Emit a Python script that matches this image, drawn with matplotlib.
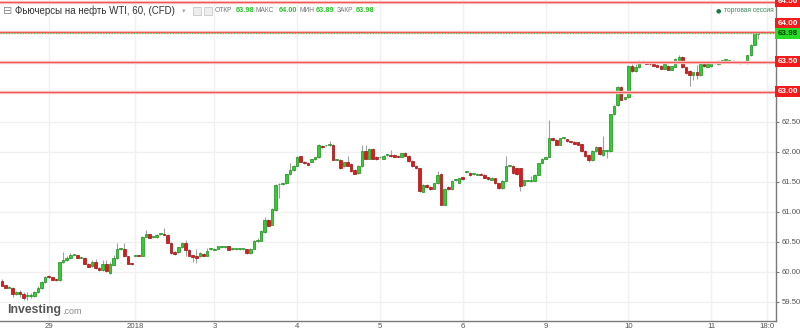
import numpy as np
import matplotlib
matplotlib.use('Agg')
import matplotlib.pyplot as plt
from matplotlib.patches import Rectangle

plt.rcParams['font.family'] = ['Liberation Sans', 'DejaVu Sans']

### Hourly candles (WTI futures CFD, 60 min)
opens = [59.85, 59.78, 59.74, 59.74, 59.63, 59.66, 59.64, 59.60, 59.60, 59.60,
         59.66, 59.74, 59.83, 59.93, 59.91, 59.88, 59.86, 60.16, 60.20, 60.24,
         60.29, 60.28, 60.24, 60.24, 60.14, 60.10, 60.17, 60.06, 60.03, 60.14,
         59.98, 60.12, 60.23, 60.38, 60.39, 60.26, 60.14, 60.27, 60.28, 60.27,
         60.59, 60.63, 60.58, 60.58, 60.63, 60.63, 60.62, 60.49, 60.34, 60.33,
         60.41, 60.48, 60.37, 60.28, 60.27, 60.26, 60.30, 60.27, 60.38, 60.37,
         60.39, 60.42, 60.41, 60.43, 60.38, 60.38, 60.38, 60.38, 60.38, 60.31,
         60.39, 60.51, 60.52, 60.66, 60.86, 60.79, 61.03, 61.46, 61.47, 61.48,
         61.63, 61.70, 61.77, 61.93, 61.84, 61.82, 61.84, 61.88, 61.91, 62.10,
         62.11, 62.11, 62.12, 61.87, 61.87, 61.76, 61.83, 61.80, 61.70, 61.65,
         61.76, 62.02, 61.89, 62.05, 61.92, 61.91, 61.89, 61.95, 61.95, 61.95,
         61.94, 61.92, 61.99, 61.94, 61.85, 61.77, 61.73, 61.34, 61.45, 61.42,
         61.39, 61.48, 61.64, 61.12, 61.42, 61.38, 61.53, 61.49, 61.58, 61.67,
         61.65, 61.63, 61.62, 61.64, 61.62, 61.58, 61.54, 61.56, 61.48, 61.40,
         61.52, 61.77, 61.77, 61.73, 61.73, 61.45, 61.52, 61.52, 61.52, 61.62,
         61.82, 61.89, 61.92, 62.23, 62.20, 62.12, 62.23, 62.21, 62.18, 62.17,
         62.16, 62.13, 62.02, 61.95, 61.86, 62.01, 62.08, 61.95, 62.02, 62.01,
         62.63, 62.78, 63.09, 62.88, 62.91, 63.44, 63.35, 63.41, 63.51, 63.51,
         63.47, 63.46, 63.45, 63.44, 63.39, 63.44, 63.37, 63.42, 63.54, 63.59,
         63.41, 63.35, 63.28, 63.33, 63.28, 63.46, 63.42, 63.43, 63.48, 63.46,
         63.52, 63.53, 63.52, 63.52, 63.49, 63.48, 63.49, 63.48, 63.61, 63.79,
         63.97]
closes = [59.77, 59.74, 59.75, 59.63, 59.67, 59.63, 59.56, 59.60, 59.62, 59.66,
          59.74, 59.84, 59.92, 59.91, 59.87, 59.86, 60.16, 60.20, 60.24, 60.29,
          60.29, 60.24, 60.24, 60.14, 60.09, 60.16, 60.06, 60.04, 60.14, 60.02,
          60.14, 60.23, 60.38, 60.38, 60.26, 60.14, 60.13, 60.27, 60.27, 60.59,
          60.63, 60.57, 60.58, 60.62, 60.63, 60.62, 60.49, 60.31, 60.30, 60.41,
          60.48, 60.37, 60.27, 60.25, 60.23, 60.31, 60.27, 60.35, 60.38, 60.39,
          60.43, 60.42, 60.43, 60.37, 60.38, 60.38, 60.38, 60.38, 60.31, 60.39,
          60.52, 60.53, 60.68, 60.87, 60.77, 61.05, 61.45, 61.47, 61.48, 61.63,
          61.70, 61.77, 61.91, 61.84, 61.81, 61.79, 61.88, 61.91, 62.12, 62.08,
          62.11, 62.13, 61.87, 61.87, 61.73, 61.83, 61.77, 61.68, 61.64, 61.77,
          62.02, 61.89, 62.05, 61.89, 61.88, 61.91, 61.94, 61.95, 61.93, 61.92,
          61.92, 61.98, 61.94, 61.85, 61.76, 61.73, 61.35, 61.45, 61.41, 61.38,
          61.48, 61.62, 61.12, 61.39, 61.38, 61.52, 61.53, 61.56, 61.55, 61.67,
          61.61, 61.63, 61.64, 61.62, 61.57, 61.55, 61.57, 61.48, 61.40, 61.52,
          61.77, 61.77, 61.65, 61.63, 61.44, 61.53, 61.52, 61.52, 61.62, 61.81,
          61.89, 61.91, 62.23, 62.20, 62.12, 62.23, 62.23, 62.18, 62.16, 62.14,
          62.12, 62.01, 61.93, 61.86, 62.02, 62.09, 61.96, 62.03, 62.02, 62.63,
          62.77, 63.08, 62.87, 62.91, 63.44, 63.35, 63.41, 63.49, 63.51, 63.47,
          63.46, 63.44, 63.42, 63.39, 63.46, 63.37, 63.43, 63.55, 63.59, 63.41,
          63.31, 63.28, 63.33, 63.28, 63.46, 63.43, 63.46, 63.48, 63.48, 63.52,
          63.52, 63.53, 63.52, 63.49, 63.49, 63.51, 63.49, 63.61, 63.79, 63.98,
          63.98]
highs = [59.89, 59.79, 59.76, 59.75, 59.69, 59.70, 59.66, 59.67, 59.65, 59.68,
         59.76, 59.85, 59.94, 59.95, 59.92, 59.89, 60.17, 60.34, 60.26, 60.31,
         60.30, 60.29, 60.25, 60.25, 60.15, 60.20, 60.22, 60.08, 60.20, 60.20,
         60.16, 60.28, 60.48, 60.40, 60.48, 60.27, 60.15, 60.28, 60.29, 60.60,
         60.70, 60.64, 60.59, 60.63, 60.64, 60.73, 60.63, 60.50, 60.35, 60.42,
         60.50, 60.53, 60.38, 60.29, 60.39, 60.33, 60.31, 60.40, 60.39, 60.40,
         60.44, 60.43, 60.44, 60.44, 60.39, 60.39, 60.39, 60.39, 60.39, 60.40,
         60.53, 60.56, 60.70, 60.91, 60.88, 61.07, 61.47, 61.48, 61.49, 61.64,
         61.81, 61.78, 61.93, 61.94, 61.85, 61.83, 61.89, 61.92, 62.13, 62.11,
         62.12, 62.18, 62.13, 61.88, 61.88, 61.84, 61.94, 61.81, 61.71, 61.78,
         62.12, 62.12, 62.06, 62.06, 61.93, 61.92, 61.95, 61.96, 62.03, 61.96,
         61.95, 61.99, 62.00, 61.95, 61.86, 61.78, 61.74, 61.46, 61.46, 61.43,
         61.49, 61.68, 61.65, 61.40, 61.43, 61.53, 61.54, 61.57, 61.59, 61.68,
         61.66, 61.64, 61.65, 61.65, 61.63, 61.59, 61.58, 61.57, 61.49, 61.53,
         61.94, 61.78, 61.78, 61.74, 61.74, 61.54, 61.53, 61.60, 61.63, 61.82,
         61.90, 61.92, 62.54, 62.24, 62.21, 62.24, 62.24, 62.22, 62.19, 62.18,
         62.17, 62.14, 62.03, 61.96, 62.03, 62.10, 62.09, 62.26, 62.03, 62.64,
         62.79, 63.10, 63.10, 62.92, 63.45, 63.46, 63.47, 63.53, 63.53, 63.52,
         63.48, 63.47, 63.46, 63.45, 63.47, 63.45, 63.44, 63.56, 63.61, 63.60,
         63.42, 63.36, 63.34, 63.45, 63.47, 63.47, 63.50, 63.49, 63.52, 63.53,
         63.53, 63.54, 63.53, 63.53, 63.50, 63.52, 63.50, 63.62, 63.80, 63.99,
         64.00]
lows = [59.76, 59.73, 59.73, 59.59, 59.61, 59.59, 59.54, 59.53, 59.57, 59.58,
        59.65, 59.72, 59.82, 59.90, 59.86, 59.85, 59.85, 60.15, 60.19, 60.23,
        60.28, 60.23, 60.23, 60.13, 60.08, 60.09, 60.05, 60.02, 60.02, 60.00,
        59.97, 60.11, 60.22, 60.36, 60.25, 60.13, 60.11, 60.26, 60.26, 60.26,
        60.58, 60.56, 60.57, 60.57, 60.62, 60.61, 60.48, 60.30, 60.29, 60.32,
        60.40, 60.26, 60.26, 60.17, 60.15, 60.25, 60.26, 60.26, 60.37, 60.36,
        60.38, 60.41, 60.40, 60.36, 60.37, 60.37, 60.37, 60.37, 60.30, 60.30,
        60.38, 60.50, 60.51, 60.65, 60.76, 60.78, 61.02, 61.23, 61.45, 61.47,
        61.62, 61.69, 61.76, 61.83, 61.80, 61.78, 61.83, 61.87, 61.90, 62.07,
        62.10, 62.10, 61.86, 61.86, 61.72, 61.75, 61.76, 61.67, 61.63, 61.63,
        61.75, 61.88, 61.88, 61.88, 61.87, 61.90, 61.88, 61.94, 61.92, 61.91,
        61.91, 61.91, 61.93, 61.84, 61.75, 61.72, 61.34, 61.33, 61.40, 61.37,
        61.38, 61.47, 61.11, 61.11, 61.37, 61.37, 61.52, 61.48, 61.54, 61.65,
        61.60, 61.62, 61.61, 61.61, 61.56, 61.54, 61.53, 61.47, 61.39, 61.39,
        61.51, 61.76, 61.64, 61.62, 61.35, 61.44, 61.51, 61.50, 61.51, 61.61,
        61.81, 61.88, 61.91, 62.19, 62.11, 62.11, 62.22, 62.17, 62.15, 62.13,
        62.11, 62.00, 61.92, 61.84, 61.85, 62.00, 61.95, 61.94, 61.90, 62.00,
        62.62, 62.77, 62.86, 62.87, 62.90, 63.34, 63.34, 63.40, 63.50, 63.46,
        63.45, 63.43, 63.41, 63.38, 63.38, 63.36, 63.36, 63.41, 63.53, 63.40,
        63.30, 63.10, 63.20, 63.22, 63.27, 63.42, 63.41, 63.42, 63.47, 63.45,
        63.51, 63.52, 63.51, 63.48, 63.48, 63.47, 63.48, 63.47, 63.60, 63.78,
        63.89]

### Day separators on the time axis (candle index) and their labels
day_pos = [13, 37, 59, 82, 105, 128, 151, 174, 197, 212.5]
day_labels = ['29', '2018', '3', '4', '5', '6', '9', '10', '11', '18:0']

### Alert levels and last price
alert_levels = [64.50, 64.00, 63.50, 63.00]
last_price = 63.98
price_ticks = [59.50, 60.00, 60.50, 61.00, 61.50, 62.00, 62.50]

# header values
ohlc_names = ['ОТКР', 'МАКС', 'МИН', 'ЗАКР']
ohlc_vals = ['63.98', '64.00', '63.89', '63.98']

o = np.array(opens); c = np.array(closes); h = np.array(highs); l = np.array(lows)
x = np.arange(len(o))

W, H = 800, 329
fig = plt.figure(figsize=(W / 100, H / 100), dpi=100)
ax = fig.add_axes([0, 8 / H, 776 / W, 321 / H])
ax.set_xlim(-0.55, 215)
ax.set_ylim(59.183, 64.533)

### grid
for p in price_ticks:
    ax.axhline(p, color='#f0f0f0', lw=1, zorder=0)
for d in day_pos:
    ax.axvline(d, color='#f0f0f0', lw=1, zorder=0)

### candles
up = c >= o
bot = np.minimum(o, c)
hgt = np.maximum(np.abs(c - o), 0.012)
ax.vlines(x, l, h, color='#a0a0a0', lw=0.8, zorder=2)
ax.bar(x[up], hgt[up], bottom=bot[up], width=0.72, color='#33cc33',
       edgecolor='#1c8c1c', lw=0.5, zorder=3)
ax.bar(x[~up], hgt[~up], bottom=bot[~up], width=0.72, color='#dd1a1a',
       edgecolor='#9c1010', lw=0.5, zorder=3)

### alert lines + last price
for lvl in alert_levels:
    ax.axhline(lvl, color='#fbc8c8', lw=2.4, zorder=4)
    ax.axhline(lvl, color='#f05858', lw=0.9, zorder=4)
ax.axhline(last_price, color='#33cc33', lw=0.8, ls=(0, (1, 1.5)), zorder=5)

### axes look
for s in ['top', 'left']:
    ax.spines[s].set_visible(False)
for s in ['right', 'bottom']:
    ax.spines[s].set_color('#7a7a7a')
    ax.spines[s].set_linewidth(1)
ax.yaxis.tick_right()
ax.set_yticks(price_ticks)
ax.set_yticklabels(['%.2f' % p for p in price_ticks])
ax.tick_params(axis='y', labelsize=5.6, colors='#7a7a7a', labelcolor='#555555',
               length=2.5, width=0.8, pad=1.5)
ax.set_xticks(day_pos)
ax.set_xticklabels(day_labels)
ax.tick_params(axis='x', labelsize=5.6, labelcolor='#555555', length=0, pad=1.5)

### price boxes on the right
tr = ax.get_yaxis_transform()
for lvl in alert_levels:
    dy = 8 if lvl == 64.00 else 0
    ax.annotate('%.2f' % lvl, xy=(1.0, lvl), xycoords=tr, xytext=(1.5, dy),
                textcoords='offset pixels', ha='left', va='center', fontsize=5.8,
                color='white', fontweight='bold', annotation_clip=False,
                bbox=dict(boxstyle='square,pad=0.25', fc='#f21c1c', ec='none'), zorder=10)
ax.annotate('%.2f' % last_price, xy=(1.0, last_price), xycoords=tr, xytext=(1.5, 0),
            textcoords='offset pixels', ha='left', va='center', fontsize=5.8,
            color='#0b3b0b', fontweight='bold', annotation_clip=False,
            bbox=dict(boxstyle='square,pad=0.25', fc='#27dd27', ec='none'), zorder=11)

### header
fig.text(3 / W, 1 - 11 / H, '⊟', fontsize=8, color='#888888', va='center', family='DejaVu Sans')
fig.text(15 / W, 1 - 11 / H, 'Фьючерсы на нефть WTI, 60, (CFD)', fontsize=7.0,
         color='#333333', va='center')
fig.text(182 / W, 1 - 11 / H, '▾', fontsize=5, color='#aaaaaa', va='center', family='DejaVu Sans')
for xx in [193, 204]:
    fig.patches.append(Rectangle((xx / W, 1 - 15 / H), 8 / W, 8 / H, transform=fig.transFigure,
                                 fc='#eeeeee', ec='#c8c8c8', lw=0.6))
name_x = [215, 256, 299, 337]
val_x = [236, 279, 316, 356]
for nm, vl, nx, vx in zip(ohlc_names, ohlc_vals, name_x, val_x):
    fig.text(nx / W, 1 - 11 / H, nm, fontsize=4.8, color='#777777', va='center')
    fig.text(vx / W, 1 - 11 / H, vl, fontsize=5.3, color='#2cc22c', va='center', fontweight='bold')
fig.text(716 / W, 1 - 11 / H, '●', fontsize=4.5, color='#1e7a46', va='center', family='DejaVu Sans')
fig.text(724 / W, 1 - 11 / H, 'торговая сессия', fontsize=4.8, color='#3d8a5e', va='center')

### logo
fig.text(7 / W, 1 - 310 / H, 'Investing', fontsize=8.8, color='#555555', va='center',
         fontweight='bold')
fig.text(62 / W, 1 - 312 / H, '.com', fontsize=6.5, color='#8a8a8a', va='center')

fig.savefig('out.png', dpi=100)
